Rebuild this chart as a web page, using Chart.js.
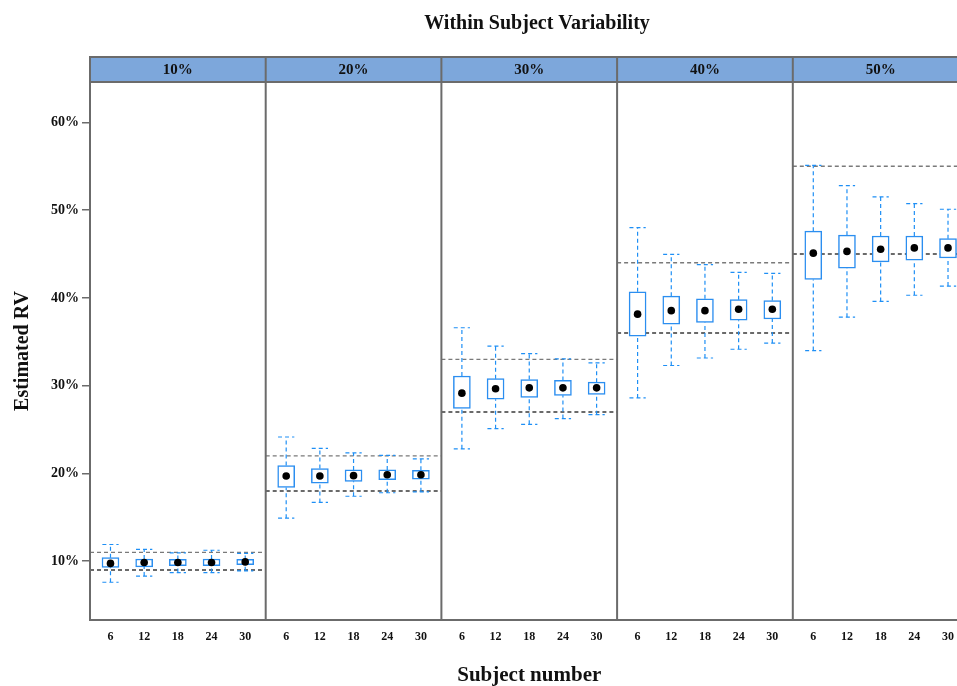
<!DOCTYPE html>
<html>
<head>
<meta charset="utf-8">
<title>Within Subject Variability</title>
<script src="https://cdn.jsdelivr.net/npm/chart.js@4.4.1/dist/chart.umd.min.js"></script>
<style>
  html, body { margin: 0; padding: 0; overflow: hidden; background: #fff; }
  canvas { display: block; }
</style>
</head>
<body>
<canvas id="chart" width="1074" height="686"></canvas>
<script>
// panels = true within-subject variability, x = subject number
const panels = ['10%', '20%', '30%', '40%', '50%'];
const subjects = [6, 12, 18, 24, 30];
const yTicks = [10, 20, 30, 40, 50, 60];

// dashed reference band in each panel
const lowerRef = [9, 18, 27, 36, 45];
const upperRef = [11, 22, 33, 44, 55];

// one row per panel, one value per subject number
const whiskerLow = [
  [7.6, 8.3, 8.7, 8.7, 8.9],
  [14.9, 16.7, 17.4, 17.8, 17.9],
  [22.8, 25.1, 25.6, 26.25, 26.7],
  [28.6, 32.3, 33.15, 34.15, 34.85],
  [34.0, 37.8, 39.6, 40.3, 41.35]
];
const q1 = [
  [9.3, 9.35, 9.5, 9.5, 9.6],
  [18.4, 18.9, 19.1, 19.3, 19.35],
  [27.4, 28.45, 28.65, 28.9, 29.0],
  [35.65, 37.0, 37.2, 37.45, 37.6],
  [42.1, 43.4, 44.1, 44.3, 44.55]
];
const means = [
  [9.75, 9.85, 9.85, 9.85, 9.92],
  [19.7, 19.7, 19.75, 19.85, 19.85],
  [29.15, 29.65, 29.75, 29.75, 29.75],
  [38.15, 38.55, 38.55, 38.7, 38.7],
  [45.1, 45.3, 45.55, 45.7, 45.7]
];
const q3 = [
  [10.4, 10.25, 10.2, 10.25, 10.2],
  [20.9, 20.55, 20.4, 20.4, 20.35],
  [31.1, 30.8, 30.7, 30.6, 30.4],
  [40.7, 40.2, 39.9, 39.8, 39.7],
  [47.6, 47.15, 47.05, 47.05, 46.75]
];
const whiskerHigh = [
  [11.9, 11.35, 10.95, 11.25, 10.9],
  [24.15, 22.85, 22.35, 22.05, 21.65],
  [36.6, 34.5, 33.65, 33.05, 32.6],
  [48.0, 44.95, 43.8, 42.9, 42.8],
  [55.1, 52.8, 51.5, 50.75, 50.1]
];

// each panel is a slice of one linear x axis
const PANEL_MIN = 2.35;
const PANEL_MAX = 33.65;
const PANEL_W = PANEL_MAX - PANEL_MIN;
const CAP = 1.45;

function xPos(p, n) { return p * PANEL_W + (n - PANEL_MIN); }

const serif = 'Liberation Serif, Times New Roman, serif';
const blue = '#2B8EF0';

let boxData = [], meanData = [], whiskerData = [], lowData = [], highData = [];
let tickPos = [];
panels.forEach((label, p) => {
  subjects.forEach((n, i) => {
    const x = xPos(p, n);
    tickPos.push(x);
    boxData.push({ x: x, y: [q1[p][i], q3[p][i]] });
    meanData.push({ x: x, y: means[p][i] });
    whiskerData.push(
      { x: x, y: whiskerLow[p][i] }, { x: x, y: q1[p][i] }, { x: x, y: null },
      { x: x, y: q3[p][i] }, { x: x, y: whiskerHigh[p][i] }, { x: x, y: null },
      { x: x - CAP, y: whiskerLow[p][i] }, { x: x + CAP, y: whiskerLow[p][i] }, { x: x, y: null },
      { x: x - CAP, y: whiskerHigh[p][i] }, { x: x + CAP, y: whiskerHigh[p][i] }, { x: x, y: null }
    );
  });
  lowData.push({ x: p * PANEL_W, y: lowerRef[p] }, { x: (p + 1) * PANEL_W, y: lowerRef[p] }, { x: p * PANEL_W, y: null });
  highData.push({ x: p * PANEL_W, y: upperRef[p] }, { x: (p + 1) * PANEL_W, y: upperRef[p] }, { x: p * PANEL_W, y: null });
});

// Strip headers and panel frame
const framePlugin = {
  id: 'frame',
  beforeDraw(chart) {
    const ctx = chart.ctx, a = chart.chartArea, top = chart.scales.x2.top;
    ctx.save();
    ctx.fillStyle = '#7DA7DB';
    ctx.fillRect(a.left, top, a.right - a.left, a.top - top);
    ctx.restore();
  },
  afterDatasetsDraw(chart) {
    const ctx = chart.ctx, a = chart.chartArea, x = chart.scales.x, top = chart.scales.x2.top;
    ctx.save();
    ctx.strokeStyle = '#6B6B6B';
    ctx.lineWidth = 2;
    ctx.beginPath();
    [top, a.top, a.bottom].forEach((y) => {
      ctx.moveTo(a.left - 1, y);
      ctx.lineTo(a.right + 1, y);
    });
    for (let p = 0; p <= panels.length; p++) {
      const px = x.getPixelForValue(p * PANEL_W);
      ctx.moveTo(px, top);
      ctx.lineTo(px, a.bottom + 1);
    }
    ctx.stroke();
    ctx.restore();
  }
};

new Chart(document.getElementById('chart'), {
  type: 'bar',
  data: {
    datasets: [
      {
        type: 'scatter',
        data: meanData,
        pointRadius: 3.8,
        pointBackgroundColor: '#000',
        pointBorderWidth: 0
      },
      {
        type: 'bar',
        data: boxData,
        backgroundColor: '#fff',
        borderColor: blue,
        borderWidth: 1.5,
        borderSkipped: false,
        barThickness: 17,
        grouped: false
      },
      {
        type: 'line',
        data: whiskerData,
        borderColor: '#1E8FF5',
        borderWidth: 1.2,
        borderDash: [4, 3],
        pointRadius: 0,
        spanGaps: false
      },
      {
        type: 'line',
        data: highData,
        borderColor: '#7A7A7A',
        borderWidth: 1.4,
        borderDash: [4, 3],
        pointRadius: 0,
        spanGaps: false
      },
      {
        type: 'line',
        data: lowData,
        borderColor: '#3A3A3A',
        borderWidth: 1.4,
        borderDash: [4, 3],
        pointRadius: 0,
        spanGaps: false
      }
    ]
  },
  options: {
    responsive: false,
    animation: false,
    devicePixelRatio: 1,
    layout: { padding: 0 },
    plugins: {
      legend: { display: false },
      tooltip: { enabled: false },
      title: {
        display: true,
        text: 'Within Subject Variability',
        color: '#111',
        font: { family: serif, size: 20, weight: 'bold' },
        padding: { top: 12, bottom: 21 }
      }
    },
    scales: {
      x: {
        type: 'linear',
        position: 'bottom',
        offset: false,
        min: 0,
        max: panels.length * PANEL_W,
        afterBuildTicks: (s) => { s.ticks = tickPos.map((v) => ({ value: v })); },
        afterFit: (s) => { s.height = 66; },
        ticks: {
          autoSkip: false,
          maxRotation: 0,
          padding: 2,
          color: '#111',
          font: { family: serif, size: 12, weight: 'bold' },
          callback: (v, i) => subjects[i % subjects.length]
        },
        grid: { display: false, offset: false },
        border: { display: false },
        title: {
          display: true,
          text: 'Subject number',
          color: '#111',
          font: { family: serif, size: 21, weight: 'bold', lineHeight: 1 },
          padding: { top: 0, bottom: 0 }
        }
      },
      x2: {
        type: 'linear',
        position: 'top',
        offset: false,
        min: 0,
        max: panels.length * PANEL_W,
        afterBuildTicks: (s) => { s.ticks = panels.map((l, p) => ({ value: (p + 0.5) * PANEL_W })); },
        afterFit: (s) => { s.height = 25; },
        ticks: {
          autoSkip: false,
          maxRotation: 0,
          padding: -5,
          color: '#111',
          font: { family: serif, size: 15, weight: 'bold' },
          callback: (v, i) => panels[i]
        },
        grid: { display: false, offset: false },
        border: { display: false }
      },
      y: {
        type: 'linear',
        position: 'left',
        min: 3.3,
        max: 64.6,
        afterBuildTicks: (s) => { s.ticks = yTicks.map((v) => ({ value: v })); },
        afterFit: (s) => { s.width = 90; },
        ticks: {
          padding: 3,
          color: '#111',
          font: { family: serif, size: 14, weight: 'bold' },
          callback: (v) => v + '%'
        },
        grid: { drawOnChartArea: false, drawTicks: true, tickLength: 8, color: '#6B6B6B', lineWidth: 1.5 },
        border: { display: false },
        title: {
          display: true,
          text: 'Estimated RV',
          color: '#111',
          font: { family: serif, size: 20, weight: 'bold' },
          padding: { top: 11, bottom: 0 }
        }
      },
      // empty right gutter so the last panel runs past the window edge
      yR: {
        type: 'linear',
        position: 'right',
        afterFit: (s) => { s.width = 105.5; },
        ticks: { display: false },
        grid: { display: false },
        border: { display: false }
      }
    }
  },
  plugins: [framePlugin]
});
</script>
</body>
</html>
